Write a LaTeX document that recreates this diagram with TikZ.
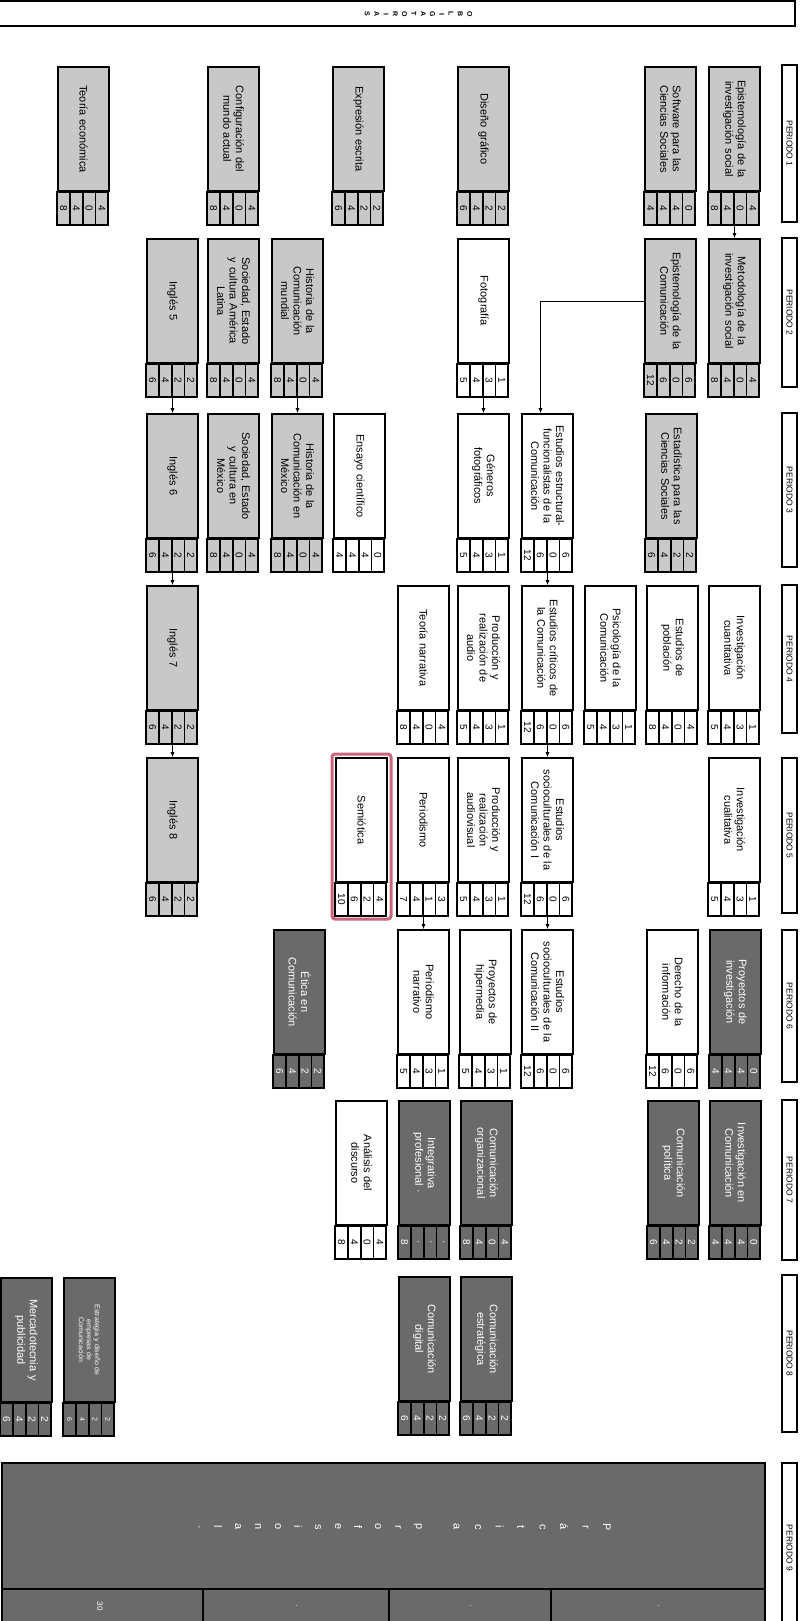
\documentclass[tikz,border=0pt]{standalone}
\usepackage{fontspec}
\setmainfont{Liberation Sans}
\usetikzlibrary{arrows.meta,calc}

\definecolor{grisclaro}{HTML}{C8C8C8}
\definecolor{grisoscuro}{HTML}{6A6A6A}
\definecolor{rosa}{HTML}{C9647A}

\tikzset{
  curso/.style={draw, line width=1.6pt, rotate=-90, minimum width=124pt, minimum height=51pt,
    text width=116pt, inner sep=2pt, align=center, font=\fontsize{11}{12.5}\selectfont},
  celda/.style={draw, line width=1.6pt, rotate=-90, minimum width=33pt, minimum height=12.75pt,
    inner sep=0pt, font=\fontsize{10}{10}\selectfont},
  gris/.style={fill=grisclaro},
  blanco/.style={fill=white},
  oscuro/.style={fill=grisoscuro, text=white},
  periodo/.style={draw, line width=1.2pt, rotate=-90, minimum height=15pt, inner sep=0pt,
    font=\fontsize{8.5}{9}\selectfont},
  flecha/.style={-{Latex[length=5pt,width=4pt]}, line width=0.9pt},
  letra/.style={rotate=-90, inner sep=0pt}
}

% materia: nombre, x izq, y arriba, estilo, texto, cuatro creditos
\newcommand{\materia}[9]{%
  \node[curso,#4] (#1) at ({#2+25.5},{#3+62}) {#5};
  \foreach \val [count=\pos] in {#6,#7,#8,#9}
    \node[celda,#4] (#1-\pos) at ($(#1.south east)+({\pos*12.75-6.375},16.5)$) {\val};
  \coordinate (#1-b) at ($(#1.east)+(0,33)$);
}

\begin{document}
\begin{tikzpicture}[x=1pt,y=-1pt]
  \useasboundingbox (0,0) rectangle (805,1621);

  % banda superior
  \draw[line width=1.2pt] (-2,1) -- (795,1) -- (795,26) -- (-2,26);
  \foreach \l [count=\pos] in {O,B,L,I,G,A,T,O,R,I,A,S}
    \node[letra, font=\bfseries\fontsize{7}{7}\selectfont] (ob\pos) at ({479-9.3*\pos},14) {\l};

  % periodos
  \foreach \n/\a/\b in {1/65/222, 2/238/387, 3/413/567, 4/585/733, 5/758/913,
                        6/930/1082, 7/1100/1260, 8/1275/1432, 9/1463/1633}
    \node[periodo, minimum width={\b-\a}] (per\n) at (789.5,{(\a+\b)/2}) {PERIODO \n};

  % Periodo 1
  \materia{epinv}{709}{67}{gris}{Epistemología de la\\investigación social}{8}{4}{0}{4}
  \materia{software}{645}{67}{gris}{Software para las\\Ciencias Sociales}{4}{4}{4}{0}
  \materia{diseno}{458}{67}{gris}{Diseño gráfico}{6}{4}{2}{2}
  \materia{expresion}{333}{67}{gris}{Expresión escrita}{6}{4}{2}{2}
  \materia{config}{208}{67}{gris}{Configuración del\\mundo actual}{8}{4}{0}{4}
  \materia{teoeco}{58}{67}{gris}{Teoría económica}{8}{4}{0}{4}

  % Periodo 2
  \materia{metinv}{709}{239}{gris}{Metodología de la\\investigación social}{8}{4}{0}{4}
  \materia{epicom}{645}{239}{gris}{Epistemología de la\\Comunicación}{12}{6}{0}{6}
  \materia{foto}{458}{239}{blanco}{Fotografía}{5}{4}{3}{1}
  \materia{histmun}{272}{239}{gris}{Historia de la\\Comunicación\\mundial}{8}{4}{0}{4}
  \materia{socal}{208}{239}{gris}{Sociedad, Estado\\y cultura América\\Latina}{8}{4}{0}{4}
  \materia{ingles5}{147}{239}{gris}{Inglés 5}{6}{4}{2}{2}

  % Periodo 3
  \materia{estadistica}{646}{414}{gris}{Estadística para las\\Ciencias Sociales}{6}{4}{2}{2}
  \materia{estfun}{522}{414}{blanco}{Estudios estructural-\\funcionalistas de la\\Comunicación}{12}{6}{0}{6}
  \materia{generos}{458}{414}{blanco}{Géneros\\fotográficos}{5}{4}{3}{1}
  \materia{ensayo}{334}{414}{blanco}{Ensayo científico}{4}{4}{4}{0}
  \materia{histmex}{272}{414}{gris}{Historia de la\\Comunicación en\\México}{8}{4}{0}{4}
  \materia{socmex}{208}{414}{gris}{Sociedad, Estado\\y cultura en\\México}{8}{4}{0}{4}
  \materia{ingles6}{147}{414}{gris}{Inglés 6}{6}{4}{2}{2}

  % Periodo 4
  \materia{invcuan}{709}{586}{blanco}{Investigación\\cuantitativa}{5}{4}{3}{1}
  \materia{poblacion}{647}{586}{blanco}{Estudios de\\población}{8}{4}{0}{4}
  \materia{psico}{585}{586}{blanco}{Psicología de la\\Comunicación}{5}{4}{3}{1}
  \materia{estcrit}{522}{586}{blanco}{Estudios críticos de\\la Comunicación}{12}{6}{0}{6}
  \materia{audio}{458}{586}{blanco}{Producción y\\realización de\\audio}{5}{4}{3}{1}
  \materia{teonarr}{398}{586}{blanco}{Teoría narrativa}{8}{4}{0}{4}
  \materia{ingles7}{147}{586}{gris}{Inglés 7}{6}{4}{2}{2}

  % Periodo 5
  \materia{invcual}{709}{758}{blanco}{Investigación\\cualitativa}{5}{4}{3}{1}
  \materia{socio1}{522}{758}{blanco}{Estudios\\socioculturales de la\\Comunicación I}{12}{6}{0}{6}
  \materia{audiovisual}{458}{758}{blanco}{Producción y\\realización\\audiovisual}{5}{4}{3}{1}
  \materia{periodismo}{398}{758}{blanco}{Periodismo}{7}{4}{1}{3}
  \materia{semiotica}{336}{758}{blanco}{Semiótica}{10}{6}{2}{4}
  \materia{ingles8}{147}{758}{gris}{Inglés 8}{6}{4}{2}{2}
  \draw[rosa, line width=3pt, rounded corners=3pt] (332,754) rectangle (391,919);

  % Periodo 6
  \materia{proyinv}{710}{930}{oscuro}{Proyectos de\\investigación}{4}{4}{4}{0}
  \materia{derecho}{647}{930}{blanco}{Derecho de la\\información}{12}{6}{0}{6}
  \materia{socio2}{522}{930}{blanco}{Estudios\\socioculturales de la\\Comunicación II}{12}{6}{0}{6}
  \materia{hipermedia}{460}{930}{blanco}{Proyectos de\\hipermedia}{5}{4}{3}{1}
  \materia{perionarr}{398}{930}{blanco}{Periodismo\\narrativo}{5}{4}{3}{1}
  \materia{etica}{274}{930}{oscuro}{Ética en\\Comunicación}{6}{4}{2}{2}

  % Periodo 7
  \materia{invcom}{710}{1101}{oscuro}{Investigación en\\Comunicación}{4}{4}{4}{0}
  \materia{compol}{648}{1101}{oscuro}{Comunicación\\política}{6}{4}{2}{2}
  \materia{comorg}{461}{1101}{oscuro}{Comunicación\\organizacional}{8}{4}{0}{4}
  \materia{integra}{399}{1101}{oscuro}{Integrativa\\profesional ·}{8}{·}{·}{·}
  \materia{analisis}{336}{1101}{blanco}{Análisis del\\discurso}{8}{4}{0}{4}

  % Periodo 8
  \materia{comest}{461}{1277}{oscuro}{Comunicación\\estratégica}{6}{4}{2}{2}
  \materia{comdig}{399}{1277}{oscuro}{Comunicación\\digital}{6}{4}{2}{2}
  \materia{estrategia}{64}{1278}{oscuro,font=\fontsize{7}{8}\selectfont}{Estrategia y diseño de\\empresas de\\Comunicación}{6}{4}{2}{2}
  \materia{mercado}{1}{1278}{oscuro}{Mercadotecnia y\\publicidad}{6}{4}{2}{2}

  % Periodo 9
  \draw[line width=1.6pt, fill=grisoscuro] (2,1463) rectangle (765,1630);
  \draw[line width=1.6pt] (2,1589) -- (765,1589);
  \foreach \xd in {203,389,551}
    \draw[line width=1.6pt] (\xd,1589) -- (\xd,1630);
  \foreach \l [count=\pos] in {P,r,á,c,t,i,c,a}
    \node[letra, text=white, font=\fontsize{11}{11}\selectfont] (pa\pos) at ({628.5-21.5*\pos},1527) {\l};
  \foreach \l [count=\pos] in {p,r,o,f,e,s,i,o,n,a,l,·}
    \node[letra, text=white, font=\fontsize{11}{11}\selectfont] (pp\pos) at ({438-20*\pos},1527) {\l};
  \node[letra, text=white, font=\fontsize{8}{8}\selectfont] (c30) at (100,1606) {30};
  \foreach \xd in {296,470,658}
    \node[letra, text=white, font=\fontsize{8}{8}\selectfont] at (\xd,1606) {·};

  % seriaciones
  \draw[flecha] (epinv-b) -- (metinv.west);
  \draw[flecha] (epicom.south) -| ([xshift=-7pt]estfun.west);
  \draw[flecha] (foto-b) -- (generos.west);
  \draw[flecha] (estfun-b) -- (estcrit.west);
  \draw[flecha] (estcrit-b) -- (socio1.west);
  \draw[flecha] (socio1-b) -- (socio2.west);
  \draw[flecha] (periodismo-b) -- (perionarr.west);
  \draw[flecha] (histmun-b) -- (histmex.west);
  \draw[flecha] (ingles5-b) -- (ingles6.west);
  \draw[flecha] (ingles6-b) -- (ingles7.west);
  \draw[flecha] (ingles7-b) -- (ingles8.west);
\end{tikzpicture}
\end{document}
